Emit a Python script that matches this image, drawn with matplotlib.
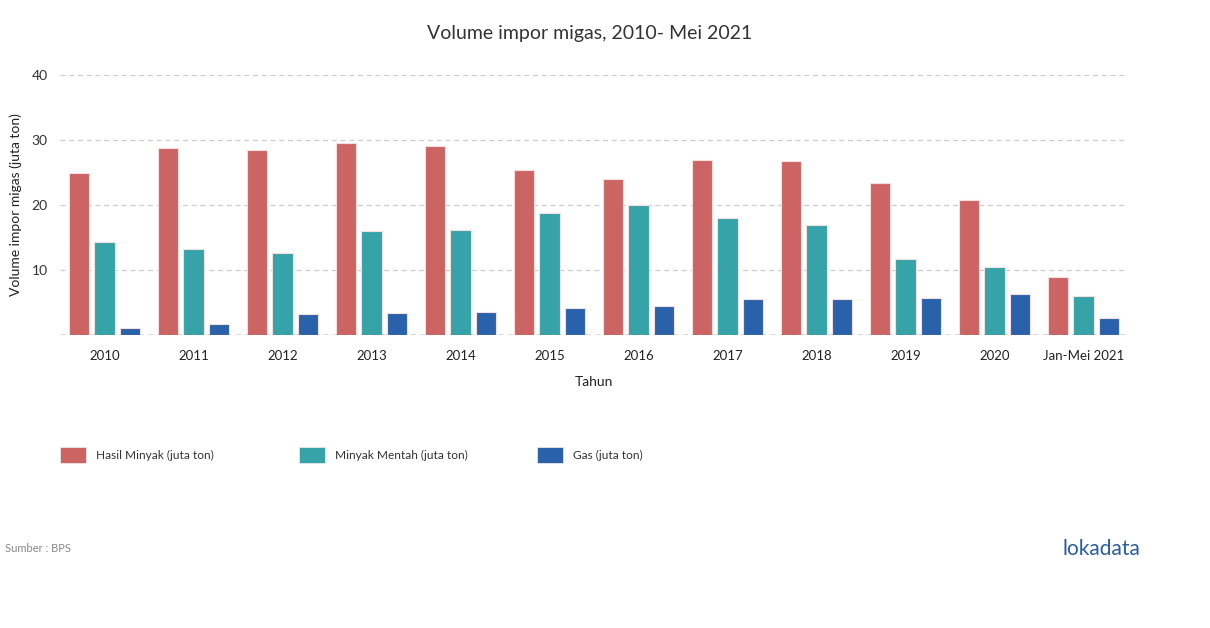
import numpy as np
import matplotlib.pyplot as plt
from matplotlib.patches import Rectangle

plt.rcParams['font.family'] = ['Lato', 'DejaVu Sans']

# data
categories = ['2010', '2011', '2012', '2013', '2014', '2015', '2016',
              '2017', '2018', '2019', '2020', 'Jan-Mei 2021']
hasil_minyak = [25.0, 28.8, 28.5, 29.5, 29.1, 25.4, 24.0, 26.9, 26.8, 23.4, 20.7, 8.9]
minyak_mentah = [14.3, 13.2, 12.6, 16.0, 16.2, 18.8, 20.0, 18.0, 16.9, 11.7, 10.5, 6.0]
gas = [1.1, 1.7, 3.2, 3.4, 3.5, 4.2, 4.5, 5.5, 5.5, 5.7, 6.3, 2.6]
series_names = ['Hasil Minyak (juta ton)', 'Minyak Mentah (juta ton)', 'Gas (juta ton)']
colors = ['#cd6464', '#35a3a8', '#2962ab']
yticks = [10, 20, 30, 40]

W, H = 1210, 628
fig = plt.figure(figsize=(W / 100, H / 100), dpi=100)
ax = fig.add_axes([60 / W, 1 - 335 / H, (1128 - 60) / W, (335 - 75) / H])

x = np.arange(len(categories))
width = 0.225
offsets = [-0.29, 0.0, 0.29]
for vals, off, c in zip([hasil_minyak, minyak_mentah, gas], offsets, colors):
    ax.bar(x + off, vals, width, color=c, edgecolor='#f4dede', linewidth=0.8, zorder=3)

ax.set_xlim(-0.5, len(categories) - 0.5)
ax.set_ylim(0, 40)
ax.set_yticks(yticks)
ax.set_yticklabels([str(t) for t in yticks], fontsize=10, color='#333333')
ax.set_xticks(x)
ax.set_xticklabels(categories, fontsize=9.5, color='#222222')
ax.tick_params(axis='both', length=0)
ax.tick_params(axis='y', pad=9)
ax.tick_params(axis='x', pad=11)
for t in yticks:
    ax.axhline(t, color='#cccccc', linestyle=(0, (4, 3)), linewidth=0.9, zorder=1)
ax.axhline(0, color='#555555', linestyle=(0, (4, 3)), linewidth=1.0, zorder=4)
for s in ax.spines.values():
    s.set_visible(False)

ax.set_xlabel('Tahun', fontsize=10, color='#222222', labelpad=10)
ax.set_ylabel('Volume impor migas (juta ton)', fontsize=10, color='#222222', labelpad=7)

fig.text(590 / W, 1 - 33 / H, 'Volume impor migas, 2010- Mei 2021', ha='center', va='center',
         fontsize=14, color='#333333')

# legend
leg_x = [60, 299, 537]
for lx, name, c in zip(leg_x, series_names, colors):
    fig.add_artist(Rectangle((lx / W, 1 - 463 / H), 26 / W, 16 / H, transform=fig.transFigure,
                             facecolor=c, edgecolor='#e8e8e8', linewidth=0.6))
    fig.text((lx + 36) / W, 1 - 455 / H, name, ha='left', va='center', fontsize=8.6, color='#333333')

fig.text(5 / W, 1 - 548 / H, 'Sumber : BPS', ha='left', va='center', fontsize=8, color='#888888')
fig.text(1140 / W, 1 - 549 / H, 'lokadata', ha='right', va='center', fontsize=15,
         color='#2a5d9f')

fig.savefig('out.png', dpi=100, facecolor='white')
